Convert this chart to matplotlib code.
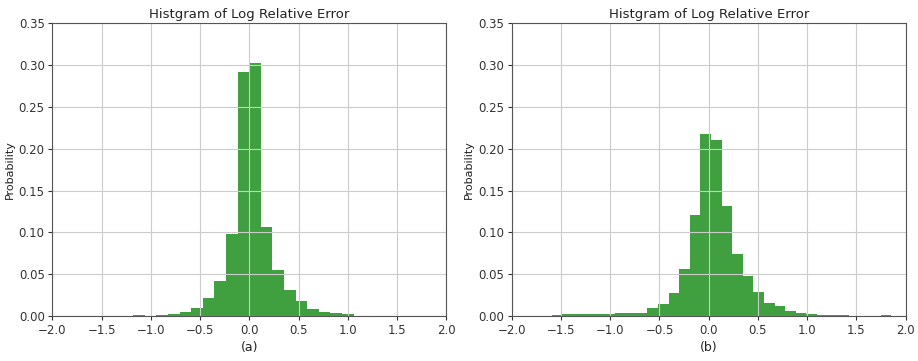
import numpy as np
import matplotlib
matplotlib.use("Agg")
import matplotlib.pyplot as plt

# panel (a): bin range and per-bin probabilities
a_range = (-1.18, 1.06)
a_probs = [0.001, 0.0, 0.001, 0.0024, 0.005, 0.009, 0.021, 0.042, 0.098,
           0.292, 0.303, 0.107, 0.055, 0.031, 0.018, 0.008, 0.005, 0.003, 0.002]

# panel (b)
b_range = (-1.593, 1.854)
b_probs = [0.001, 0.002, 0.002, 0.002, 0.002, 0.002, 0.003, 0.003, 0.004,
           0.010, 0.014, 0.027, 0.056, 0.121, 0.218, 0.210, 0.132, 0.074,
           0.048, 0.029, 0.015, 0.012, 0.006, 0.004, 0.0024, 0.0016, 0.001,
           0.001, 0.0, 0.0, 0.0, 0.001]

panels = [(a_range, a_probs, "(a)"), (b_range, b_probs, "(b)")]

xticks = [-2.0, -1.5, -1.0, -0.5, 0.0, 0.5, 1.0, 1.5, 2.0]
yticks = [0.00, 0.05, 0.10, 0.15, 0.20, 0.25, 0.30, 0.35]

fig = plt.figure(figsize=(9.18, 3.61), dpi=100)
lefts = [52.3 / 918, 511.7 / 918]
width = 394.0 / 918
bottom = 1 - 316 / 361
height = (316 - 23.3) / 361

for left, (rng, probs, tag) in zip(lefts, panels):
    ax = fig.add_axes([left, bottom, width, height])
    edges = np.linspace(rng[0], rng[1], len(probs) + 1)
    ax.hist(edges[:-1], bins=edges, weights=probs, facecolor="g", alpha=0.75)
    ax.set_xlim(-2.0, 2.0)
    ax.set_ylim(0, 0.35)
    ax.set_xticks(xticks)
    ax.set_yticks(yticks)
    ax.set_xticklabels([f"{t:.1f}".replace("-", "\u2212") for t in xticks])
    ax.set_yticklabels([f"{t:.2f}" for t in yticks])
    ax.tick_params(labelsize=8.5, length=3, colors="#333333", pad=2.5)
    ax.grid(True, color="#cccccc", linewidth=0.8)
    for s in ax.spines.values():
        s.set_color("#555555")
    ax.set_title("Histgram of Log Relative Error", fontsize=9.5, color="#222222", pad=4)
    ax.set_ylabel("Probability", fontsize=8, color="#222222", labelpad=3)
    ax.set_xlabel(tag, fontsize=9, color="#222222", labelpad=3)

fig.savefig("out.png", dpi=100)
